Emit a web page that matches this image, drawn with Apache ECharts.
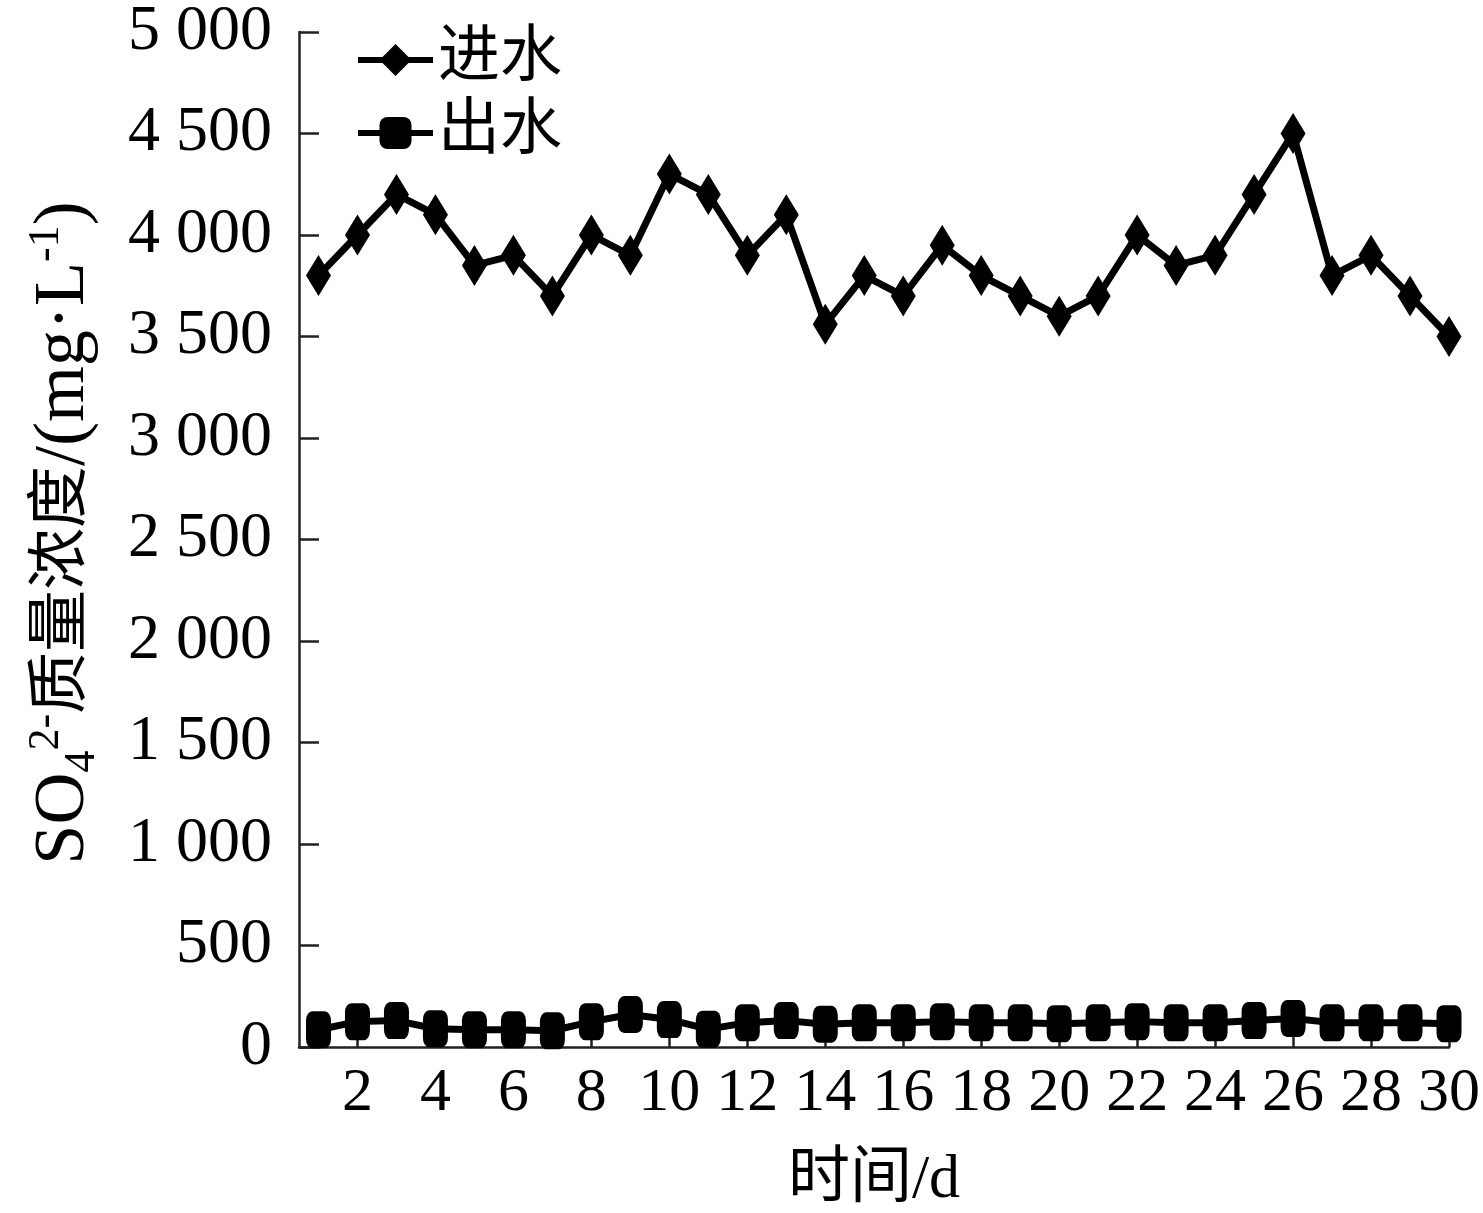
<!DOCTYPE html>
<html>
<head>
<meta charset="utf-8">
<script src="https://cdn.jsdelivr.net/npm/echarts@6/dist/echarts.min.js"></script>
<style>
html,body{margin:0;padding:0;background:#fff;}
#main{width:1483px;height:1213px;}
</style>
</head>
<body>
<div id="main"></div>
<script>
// ---- data ----
const days = [1,2,3,4,5,6,7,8,9,10,11,12,13,14,15,16,17,18,19,20,21,22,23,24,25,26,27,28,29,30];
const inflow = [3800,4000,4200,4100,3850,3900,3700,4000,3900,4300,4200,3900,4100,3560,3800,3700,3950,3800,3700,3600,3700,4000,3850,3900,4200,4500,3800,3900,3700,3500];
const outflow = [85,125,130,90,85,85,80,125,160,135,88,120,130,112,120,120,125,120,120,115,120,125,120,120,130,140,120,120,120,115];
const xTickLabels = [2,4,6,8,10,12,14,16,18,20,22,24,26,28,30];
const seriesNames = ['进水','出水'];
const xAxisTitle = '时间/d';

const serif = '"Liberation Serif","Times New Roman","Noto Sans CJK SC",serif';
const axisColor = '#222';

const chart = echarts.init(document.getElementById('main'), null, {renderer:'canvas'});
const option = {
  animation: false,
  backgroundColor: '#fff',
  grid: {left: 299, right: 34, top: 32, bottom: 166, containLabel: false, outerBoundsMode: 'none'},
  legend: {
    orient: 'vertical',
    left: 350, top: 24,
    itemWidth: 75, itemHeight: 40, itemGap: 11,
    lineStyle: {width: 6},
    textStyle: {fontFamily: serif, fontSize: 62, color: '#000'},
    data: seriesNames
  },
  xAxis: {
    type: 'value',
    min: 0.5, max: 30,
    name: xAxisTitle,
    nameLocation: 'middle',
    nameGap: 103,
    nameTextStyle: {fontFamily: serif, fontSize: 62, color: '#000'},
    splitLine: {show: false},
    axisLine: {show: true, onZero: false, lineStyle: {color: axisColor, width: 2.5}},
    axisTick: {show: true, inside: true, length: 18, customValues: xTickLabels, lineStyle: {color: axisColor, width: 2.5}},
    axisLabel: {customValues: xTickLabels, fontFamily: serif, fontSize: 62, color: '#000', margin: 16}
  },
  yAxis: {
    type: 'value',
    min: 0, max: 5000, interval: 500,
    splitLine: {show: false},
    axisLine: {show: true, onZero: false, lineStyle: {color: axisColor, width: 2.5}},
    axisTick: {show: true, inside: true, length: 20, lineStyle: {color: axisColor, width: 2.5}},
    axisLabel: {
      fontFamily: serif, fontSize: 64, color: '#000', margin: 27,
      formatter: function (v) {
        const s = String(v);
        return s.length > 3 ? s.slice(0, s.length - 3) + ' ' + s.slice(-3) : s;
      }
    }
  },
  graphic: [{
    type: 'text',
    x: 64, y: 533,
    rotation: Math.PI / 2,
    style: {
      text: '{n|SO}{sub|4}{sup|2-}{c|质量浓度}{n|/(mg·L}{sup|-1}{n|)}',
      align: 'center', verticalAlign: 'middle',
      fill: '#000',
      rich: {
        n: {fontFamily: serif, fontSize: 72, lineHeight: 80, verticalAlign: 'middle', fill: '#000'},
        c: {fontFamily: serif, fontSize: 62, lineHeight: 80, verticalAlign: 'middle', fill: '#000'},
        sub: {fontFamily: serif, fontSize: 44, lineHeight: 40, verticalAlign: 'bottom', fill: '#000'},
        sup: {fontFamily: serif, fontSize: 44, lineHeight: 40, verticalAlign: 'top', fill: '#000'}
      }
    }
  }],
  series: [
    {
      name: seriesNames[0], type: 'line',
      data: days.map((d, i) => [d, inflow[i]]),
      symbol: 'diamond', symbolSize: [25, 41],
      lineStyle: {color: '#000', width: 7},
      itemStyle: {color: '#000'}
    },
    {
      name: seriesNames[1], type: 'line',
      data: days.map((d, i) => [d, outflow[i]]),
      symbol: 'roundRect', symbolSize: [25, 37],
      lineStyle: {color: '#000', width: 7},
      itemStyle: {color: '#000'}
    }
  ]
};
chart.setOption(option);
</script>
</body>
</html>
